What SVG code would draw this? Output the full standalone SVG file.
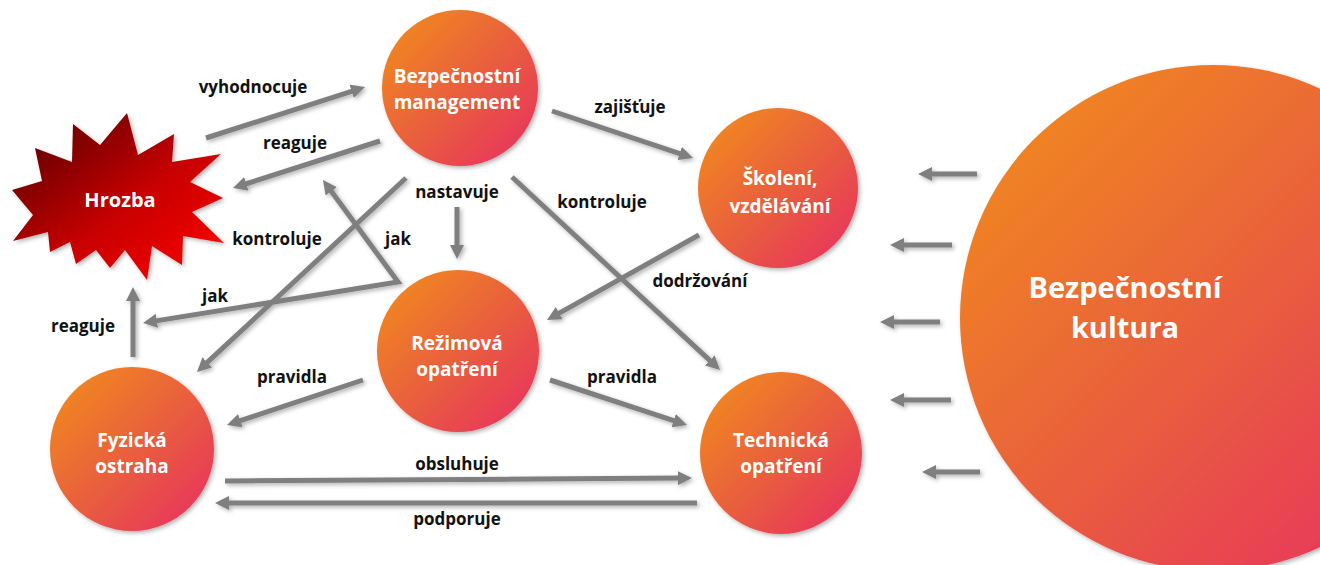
<svg xmlns="http://www.w3.org/2000/svg" width="1320" height="565" viewBox="0 0 1320 565">
<style>
.conn{fill:none;stroke:#7f7f7f;stroke-width:5;marker-end:url(#ah)}
.lbl{font-family:"Open Sans","Noto Sans",sans-serif;font-weight:700;font-size:17px;fill:#111;text-anchor:middle}
.nt{font-family:"Open Sans","Noto Sans",sans-serif;font-weight:700;font-size:19px;fill:#fff;text-anchor:middle}
.kt{font-family:"Open Sans","Noto Sans",sans-serif;font-weight:700;font-size:29px;fill:#fff;text-anchor:middle}
.circ{fill:url(#cg);filter:url(#sh)}
</style>
<defs>
<linearGradient id="cg" x1="0" y1="0" x2="1" y2="1">
<stop offset="0" stop-color="#F2901A"/>
<stop offset="0.5" stop-color="#E9603C"/>
<stop offset="1" stop-color="#E82C64"/>
</linearGradient>
<linearGradient id="sg" x1="0" y1="0" x2="1" y2="1">
<stop offset="0" stop-color="#4A0000"/>
<stop offset="0.55" stop-color="#C80000"/>
<stop offset="1" stop-color="#FF0A0A"/>
</linearGradient>
<filter id="sh" x="-20%" y="-20%" width="140%" height="140%">
<feDropShadow dx="2" dy="2" stdDeviation="2" flood-color="#000" flood-opacity="0.3"/>
</filter>
<marker id="ah" viewBox="0 0 14 14" markerWidth="14" markerHeight="14" refX="4" refY="7" orient="auto-start-reverse" markerUnits="userSpaceOnUse">
<path d="M0,0 L14,7 L0,14 Z" fill="#7f7f7f"/>
</marker>
</defs>
<rect width="1320" height="565" fill="#fff"/>

<g id="connectors" filter="url(#sh)">
<path class="conn" d="M206,138 L355.5,90.1"/>
<path class="conn" d="M380,141 L242.5,185"/>
<path class="conn" d="M552,111 L683.5,154.8"/>
<path class="conn" d="M512,177 L712.7,363.2"/>
<path class="conn" d="M457,207 L457,249"/>
<path class="conn" d="M699,235 L555.7,315.1"/>
<path class="conn" d="M363,380 L236.5,421.9"/>
<path class="conn" d="M550,380 L677.5,421.9"/>
<path class="conn" d="M225,481 L682,478.1"/>
<path class="conn" d="M697,503 L225,503"/>
<path class="conn" d="M133,357 L133,297"/>
<path class="conn" d="M406,178 L204.3,365.2"/>
<path class="conn" d="M328.9,188.1 L398,282 L152.9,321.4" style="marker-start:url(#ah);stroke-linejoin:miter"/>
<path class="conn" d="M977,174 L928,174"/>
<path class="conn" d="M952,245 L900,245"/>
<path class="conn" d="M940,322 L890,322"/>
<path class="conn" d="M951,400 L900,400"/>
<path class="conn" d="M980,472 L932,472"/>
</g>

<g id="labels">
<text class="lbl" x="253" y="93">vyhodnocuje</text>
<text class="lbl" x="295" y="149">reaguje</text>
<text class="lbl" x="630" y="113">zajišťuje</text>
<text class="lbl" x="602" y="208">kontroluje</text>
<text class="lbl" x="457" y="198">nastavuje</text>
<text class="lbl" x="700" y="287">dodržování</text>
<text class="lbl" x="277" y="245">kontroluje</text>
<text class="lbl" x="398" y="245">jak</text>
<text class="lbl" x="215" y="302">jak</text>
<text class="lbl" x="83" y="332">reaguje</text>
<text class="lbl" x="292" y="383">pravidla</text>
<text class="lbl" x="622" y="383">pravidla</text>
<text class="lbl" x="457" y="470">obsluhuje</text>
<text class="lbl" x="457" y="525">podporuje</text>
</g>

<g id="hrozba">
<polygon filter="url(#sh)" fill="url(#sg)" points="127,113 138,155 174,134 172,162 221,154 190,182 223,198 192,212 224,243 183,236 182,265 152,246 147,280 125,250 110,268 96,250 76,264 70,242 50,252 48,232 13,241 33,215 12,190 42,181 35,148 72,162 73,124 100,145"/>
<text class="nt" x="120" y="207" style="font-size:20px">Hrozba</text>
</g>

<g id="management">
<circle class="circ" cx="460" cy="88" r="78"/>
<text class="nt" x="457" y="83">Bezpečnostní</text>
<text class="nt" x="457" y="109">management</text>
</g>

<g id="skoleni">
<circle class="circ" cx="778" cy="188" r="80"/>
<text class="nt" x="780" y="185">Školení,</text>
<text class="nt" x="780" y="213">vzdělávání</text>
</g>

<g id="rezimova">
<circle class="circ" cx="458" cy="351" r="81"/>
<text class="nt" x="457" y="350">Režimová</text>
<text class="nt" x="457" y="376">opatření</text>
</g>

<g id="fyzicka">
<circle class="circ" cx="132" cy="449" r="82"/>
<text class="nt" x="132" y="447">Fyzická</text>
<text class="nt" x="132" y="473">ostraha</text>
</g>

<g id="technicka">
<circle class="circ" cx="781" cy="453" r="81"/>
<text class="nt" x="781" y="447">Technická</text>
<text class="nt" x="781" y="473">opatření</text>
</g>

<g id="kultura">
<circle class="circ" cx="1213" cy="318" r="253"/>
<text class="kt" x="1125" y="298">Bezpečnostní</text>
<text class="kt" x="1125" y="338">kultura</text>
</g>
</svg>
